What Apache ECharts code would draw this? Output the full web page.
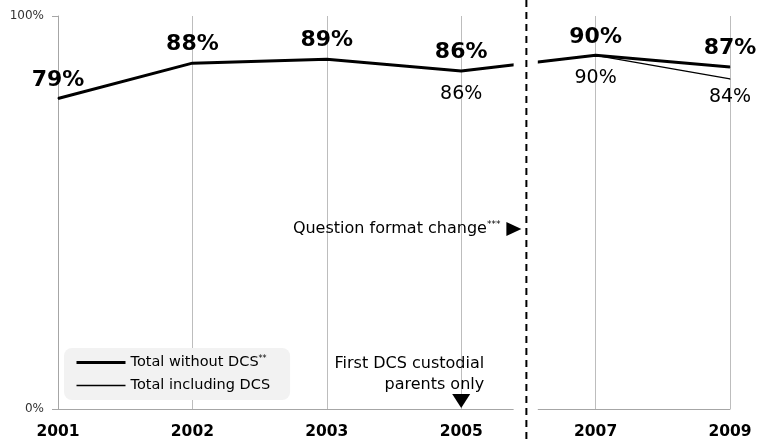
<!DOCTYPE html>
<html>
<head>
<meta charset="utf-8">
<script src="https://cdn.jsdelivr.net/npm/echarts@6/dist/echarts.min.js"></script>
<style>
  html, body { margin: 0; padding: 0; background: #fff; }
  #main { width: 759px; height: 440px; }
</style>
</head>
<body>
<div id="main"></div>
<script>
// 数据
var years = ['2001', '2002', '2003', '2005', '2007', '2009']
var withoutDcs = [79, 88, 89, 86, 90, 87]
var includingDcs = [null, null, null, 86, 90, 84]
var seriesNames = ['Total without DCS', 'Total including DCS']

var FONT = 'DejaVu Sans'
var mCharts = echarts.init(document.getElementById('main'))

// 细线标签：最后一点离线更近
var thinData = includingDcs.map(function (v, i) {
  return i === includingDcs.length - 1 ? { value: v, label: { distance: 8 } } : v
})

var option = {
  animation: false,
  textStyle: { fontFamily: FONT },
  grid: { left: 58, right: 29, top: 16, bottom: 30 },
  legend: {
    orient: 'vertical',
    left: 64,
    top: 348,
    backgroundColor: '#f2f2f2',
    borderRadius: 8,
    padding: [7, 20, 7, 11],
    itemWidth: 49,
    itemHeight: 14,
    itemGap: 8,
    itemStyle: { opacity: 0 },
    data: [
      { name: seriesNames[0], lineStyle: { width: 3, color: '#000' } },
      { name: seriesNames[1], lineStyle: { width: 1.3, color: '#000' } }
    ],
    formatter: function (name) {
      return name === seriesNames[0] ? '{t|' + name + '}{s|**}' : '{t|' + name + '}'
    },
    textStyle: {
      fontFamily: FONT,
      rich: {
        t: { fontSize: 14.5, color: '#000', fontFamily: FONT },
        s: { fontSize: 8, color: '#000', fontFamily: FONT, verticalAlign: 'top', padding: [0, 0, 7, 0] }
      }
    }
  },
  xAxis: {
    type: 'category',
    data: years,
    boundaryGap: false,
    axisLine: { lineStyle: { color: '#a6a6a6', width: 1 } },
    axisTick: { show: false },
    splitLine: { show: true, lineStyle: { color: '#bdbdbd', width: 1 } },
    axisLabel: { color: '#000', fontWeight: 'bold', fontSize: 15.5, margin: 15, fontFamily: FONT }
  },
  yAxis: {
    type: 'value',
    min: 0,
    max: 100,
    interval: 100,
    axisLine: { show: true, lineStyle: { color: '#a6a6a6' } },
    axisTick: { show: true, length: 6, lineStyle: { color: '#a6a6a6' } },
    splitLine: { show: false },
    axisLabel: { formatter: '{value}%', color: '#333', fontSize: 12, margin: 14, fontFamily: FONT }
  },
  series: [
    {
      name: seriesNames[0],
      type: 'line',
      data: withoutDcs,
      symbol: 'circle',
      symbolSize: 1,
      itemStyle: { color: '#000' },
      lineStyle: { color: '#000', width: 3 },
      z: 3,
      label: {
        show: true,
        position: 'top',
        distance: 7,
        formatter: '{c}%',
        color: '#000',
        fontWeight: 'bold',
        fontSize: 22,
        fontFamily: FONT
      }
    },
    {
      name: seriesNames[1],
      type: 'line',
      data: thinData,
      symbol: 'circle',
      symbolSize: 1,
      itemStyle: { color: '#000' },
      lineStyle: { color: '#000', width: 1.3 },
      z: 2,
      label: {
        show: true,
        position: 'bottom',
        distance: 13,
        formatter: '{c}%',
        color: '#000',
        fontSize: 19,
        fontFamily: FONT
      }
    }
  ]
}
mCharts.setOption(option)

// 断开区域 + 注释
var x5 = mCharts.convertToPixel({ xAxisIndex: 0 }, '2005')
var x7 = mCharts.convertToPixel({ xAxisIndex: 0 }, '2007')
var gapL = x5 + 0.39 * (x7 - x5)
var gapR = x5 + 0.57 * (x7 - x5)
var dashX = x5 + 0.485 * (x7 - x5)

mCharts.setOption({
  graphic: [
    {
      type: 'rect',
      z: 50,
      shape: { x: gapL, y: 20, width: gapR - gapL, height: 396 },
      style: { fill: '#fff' }
    },
    {
      type: 'line',
      z: 51,
      shape: { x1: dashX, y1: 0, x2: dashX, y2: 440 },
      style: { stroke: '#000', lineWidth: 2, lineDash: [7, 5] }
    },
    {
      type: 'text',
      z: 51,
      x: dashX - 26,
      y: 229,
      style: {
        text: '{t|Question format change}{s|***}',
        align: 'right',
        verticalAlign: 'middle',
        rich: {
          t: { fontSize: 16, fill: '#000', fontFamily: FONT },
          s: { fontSize: 9, fill: '#000', fontFamily: FONT, verticalAlign: 'top', padding: [0, 0, 8, 0] }
        }
      }
    },
    {
      type: 'polygon',
      z: 51,
      shape: { points: [[dashX - 20, 222], [dashX - 5, 229], [dashX - 20, 236]] },
      style: { fill: '#000' }
    },
    {
      type: 'text',
      z: 51,
      x: x5 + 23,
      y: 374,
      style: {
        text: 'First DCS custodial\nparents only',
        align: 'right',
        verticalAlign: 'middle',
        lineHeight: 21,
        fontSize: 16,
        fontFamily: FONT,
        fill: '#000'
      }
    },
    {
      type: 'polygon',
      z: 51,
      shape: { points: [[x5 - 9, 394], [x5 + 9, 394], [x5, 408]] },
      style: { fill: '#000' }
    }
  ]
})
</script>
</body>
</html>
